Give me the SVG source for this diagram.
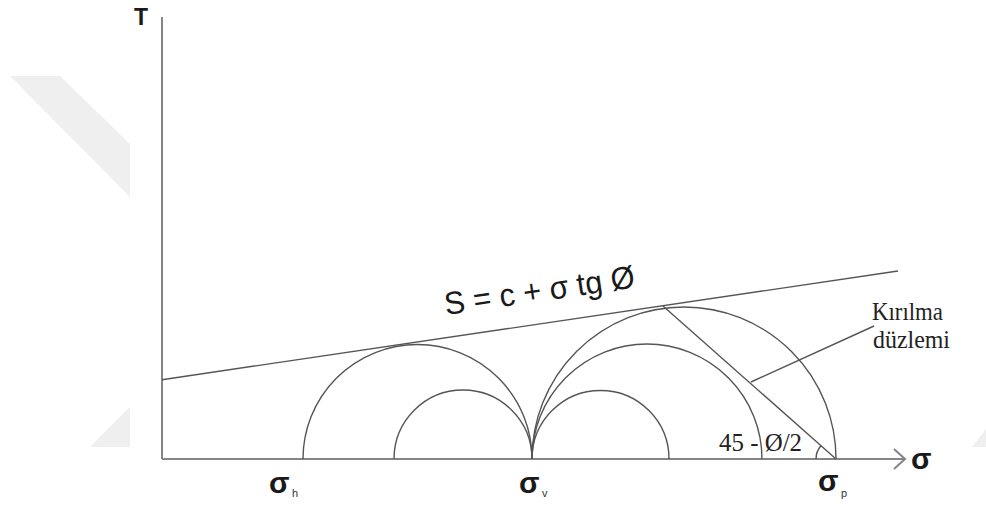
<svg xmlns="http://www.w3.org/2000/svg" width="986" height="505" viewBox="0 0 986 505">
<style>
.ax{stroke:#858585;stroke-width:2;fill:none}
.ln{stroke:#555;stroke-width:1.4;fill:none}
.wm{fill:#efefef;stroke:none}
.sg{font-family:"Liberation Sans",Arial,sans-serif;font-weight:bold;fill:#1a1a1a}
.sub{font-family:"Liberation Sans",Arial,sans-serif;font-size:11px;fill:#333}
.ser{font-family:"Liberation Serif","Times New Roman",serif;fill:#222}
</style>
<rect width="986" height="505" fill="#fff"/>
<g id="watermark">
<polygon class="wm" points="10,76 60,76 130,144 130,197"/>
<polygon class="wm" points="90,447 130,447 130,407"/>
<polygon class="wm" points="972,447 986,447 986,429"/>
</g>
<g id="axes">
<line class="ax" x1="162" y1="17" x2="162" y2="459"/>
<line class="ax" x1="162" y1="459" x2="904" y2="459"/>
<polyline class="ax" points="894,449 905,459 894,469"/>
<text class="sg" x="141" y="25" font-size="23" text-anchor="middle">T</text>
<text class="sg" x="911" y="469" font-size="30">σ</text>
</g>
<g id="circles">
<path id="c-small-left" class="ln" d="M394 459 A69 69 0 0 1 532 459"/>
<path id="c-small-right" class="ln" d="M532 459 A68.5 68.5 0 0 1 669 459"/>
<path id="c-large-left" class="ln" d="M303 459 A114.5 114.5 0 0 1 532 459"/>
<path id="c-medium-right" class="ln" d="M532 459 A115 115 0 0 1 762 459"/>
<path id="c-largest-right" class="ln" d="M532 459 A152 152 0 0 1 836 459"/>
</g>
<g id="connectors">
<line id="envelope" class="ln" x1="162" y1="379.7" x2="898" y2="271"/>
<line id="failure-plane" class="ln" x1="663" y1="306" x2="836" y2="459"/>
<line id="leader" class="ln" x1="751" y1="382" x2="874" y2="326"/>
<path id="angle-arc" class="ln" d="M816 459 A20 20 0 0 1 821 445.8"/>
</g>
<g id="envelope-label">
<text class="sg" style="font-weight:normal" x="446" y="315" font-size="32" textLength="192" lengthAdjust="spacingAndGlyphs" transform="rotate(-8.3 446 315)">S = c + σ tg Ø</text>
</g>
<g id="kirilma-label">
<text class="ser" x="872" y="320" font-size="25" textLength="71" lengthAdjust="spacingAndGlyphs">Kırılma</text>
<text class="ser" x="873" y="348" font-size="25" textLength="77" lengthAdjust="spacingAndGlyphs">düzlemi</text>
</g>
<g id="angle-label">
<text class="ser" x="719" y="451" font-size="25" textLength="83" lengthAdjust="spacingAndGlyphs">45 - Ø/2</text>
</g>
<g id="sigma-labels">
<text class="sg" x="269" y="493" font-size="30">σ</text><text class="sub" x="292" y="497">h</text>
<text class="sg" x="519" y="493" font-size="30">σ</text><text class="sub" x="542" y="497">v</text>
<text class="sg" x="818" y="491" font-size="30">σ</text><text class="sub" x="841" y="497">p</text>
</g>
</svg>
